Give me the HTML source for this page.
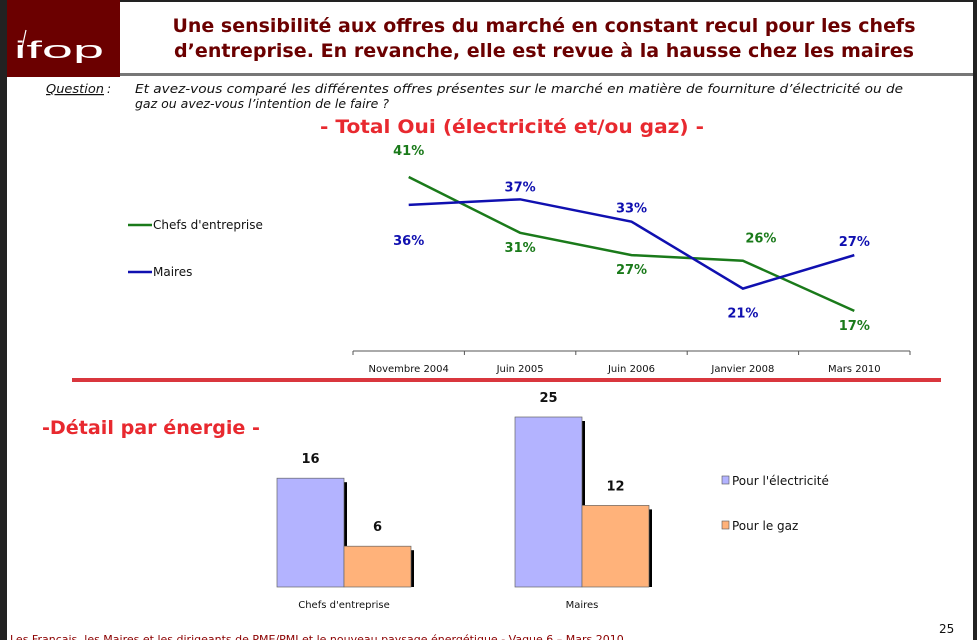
<!DOCTYPE html>
<html><head><meta charset="utf-8"><style>
html,body{margin:0;padding:0;background:#fff;width:977px;height:640px;overflow:hidden}
svg{display:block;font-family:"DejaVu Sans","Liberation Sans",sans-serif}
</style></head><body>
<svg id="s" width="977" height="640" viewBox="0 0 977 640">
<rect x="0" y="0" width="977" height="640" fill="#fff"/>
<rect x="0" y="0" width="7" height="640" fill="#222"/>
<rect x="973" y="0" width="4" height="640" fill="#222"/>
<rect x="0" y="0" width="977" height="2" fill="#222"/>
<rect x="7" y="0" width="113" height="77" fill="#6b0000"/>
<line x1="22" y1="48" x2="26" y2="30" stroke="#fff" stroke-width="1.2"/>
<text x="14" y="58" fill="#fff" font-size="24" font-family="Liberation Sans,sans-serif" textLength="90" lengthAdjust="spacingAndGlyphs">ifop</text>
<rect x="120" y="73" width="853" height="3" fill="#777"/>
<g fill="#6b0000" font-weight="bold" font-size="19" text-anchor="middle">
<text x="544" y="32" textLength="743" lengthAdjust="spacingAndGlyphs">Une sensibilité aux offres du marché en constant recul pour les chefs</text>
<text x="544" y="57" textLength="740" lengthAdjust="spacingAndGlyphs">d’entreprise. En revanche, elle est revue à la hausse chez les maires</text>
</g>
<g font-size="12" font-style="italic" fill="#111">
<text x="46" y="93" text-decoration="underline" textLength="58" lengthAdjust="spacingAndGlyphs">Question</text><text x="107" y="93">:</text>
<text x="135" y="93" textLength="768" lengthAdjust="spacingAndGlyphs">Et avez-vous comparé les différentes offres présentes sur le marché en matière de fourniture d’électricité ou de</text>
<text x="135" y="108" textLength="254" lengthAdjust="spacingAndGlyphs">gaz ou avez-vous l’intention de le faire ?</text>
</g>
<text x="512" y="133" text-anchor="middle" font-size="19" font-weight="bold" fill="#e8292f" textLength="384" lengthAdjust="spacingAndGlyphs">- Total Oui (électricité et/ou gaz) -</text>
<g id="lc"></g>
<g font-size="12" fill="#111">
<line x1="128" y1="225" x2="152" y2="225" stroke="#1a7a1a" stroke-width="2.5"/>
<text x="153" y="229">Chefs d'entreprise</text>
<line x1="128" y1="272" x2="152" y2="272" stroke="#1010b0" stroke-width="2.5"/>
<text x="153" y="276">Maires</text>
</g>
<rect x="72" y="378" width="869" height="4" fill="#d9363e"/>
<text x="42" y="434" font-size="19" font-weight="bold" fill="#e8292f" textLength="218" lengthAdjust="spacingAndGlyphs">-Détail par énergie -</text>
<g id="bc"></g>
<g font-size="12" fill="#111">
<rect x="722" y="476" width="7" height="8" fill="#b3b3ff" stroke="#555" stroke-width="0.6"/>
<text x="732" y="485">Pour l'électricité</text>
<rect x="722" y="521" width="7" height="8" fill="#ffb27a" stroke="#555" stroke-width="0.6"/>
<text x="732" y="530">Pour le gaz</text>
</g>
<text x="939" y="633" font-size="12" fill="#111">25</text>
<text x="10" y="643" font-size="11" fill="#8b0000">Les Français, les Maires et les dirigeants de PME/PMI et le nouveau paysage énergétique - Vague 6 – Mars 2010</text>
</svg>
<script>
const periods=["Novembre 2004","Juin 2005","Juin 2006","Janvier 2008","Mars 2010"];
const chefs=[41,31,27,26,17];
const maires=[36,37,33,21,27];
const chefsLabelDy=[-27,14,14,-23,14];
const chefsLabelDx=[0,0,0,18,0];
const mairesLabelDy=[35,-13,-14,24,-14];
const mairesLabelDx=[0,0,0,0,0];
const barGroups=["Chefs d'entreprise","Maires"];
const elec=[16,25];
const gaz=[6,12];

const NS="http://www.w3.org/2000/svg";
function mk(tag,attrs,parent){const e=document.createElementNS(NS,tag);for(const k in attrs)e.setAttribute(k,attrs[k]);parent.appendChild(e);return e;}
const lc=document.getElementById('lc');
const x0=353,x1=910,axisY=351;
const step=(x1-x0)/periods.length;
function xp(i){return x0+step*(i+0.5);}
function yp(v){return 177+(41-v)*5.58;}
const ax=mk('line',{x1:x0,y1:axisY,x2:x1,y2:axisY,stroke:'#555','stroke-width':1},lc);


for(let i=0;i<=periods.length;i++){const t=mk('line',{x1:x0+step*i,y1:axisY,x2:x0+step*i,y2:axisY+4,stroke:'#555'},lc);

}
periods.forEach((p,i)=>{const t=mk('text',{x:xp(i),y:372,'text-anchor':'middle','font-size':'10','fill':'#111'},lc);t.textContent=p;

});
function series(vals,col,name,dy,dx){
 const pts=vals.map((v,i)=>xp(i)+','+yp(v)).join(' ');
 const l=mk('polyline',{points:pts,fill:'none',stroke:col,'stroke-width':2.5},lc);
 
 
 vals.forEach((v,i)=>{const ty=yp(v)+dy[i]+5;
  const t=mk('text',{x:xp(i)+dx[i],y:ty,'text-anchor':'middle','font-size':'13','font-weight':'bold',fill:col},lc);t.textContent=v+'%';
  
  });
}
series(chefs,'#1a7a1a','chefs',chefsLabelDy,chefsLabelDx);
series(maires,'#1010b0','maires',mairesLabelDy,mairesLabelDx);

const bc=document.getElementById('bc');
const base=587,scale=6.8,bw=67;
const gx=[277,515];
function by(v){return base-v*scale;}
barGroups.forEach((g,i)=>{
 [[elec[i],'#b3b3ff','elec'],[gaz[i],'#ffb27a','gaz']].forEach(([v,col,n],j)=>{
  const x=gx[i]+j*bw;
  const sh=mk('rect',{x:x+bw,y:by(v)+4,width:3,height:v*scale-4,fill:'#000'},bc);
  
  
  const r=mk('rect',{x:x,y:by(v),width:bw,height:v*scale,fill:col,stroke:'#666','stroke-width':0.7},bc);
  
  
  const t=mk('text',{x:x+bw/2,y:by(v)-15,'text-anchor':'middle','font-size':'13','font-weight':'bold',fill:'#111'},bc);t.textContent=v;
  
  
 });
 const t=mk('text',{x:gx[i]+bw,y:608,'text-anchor':'middle','font-size':'10',fill:'#111'},bc);t.textContent=g;
 
 
});
</script>
</body></html>
